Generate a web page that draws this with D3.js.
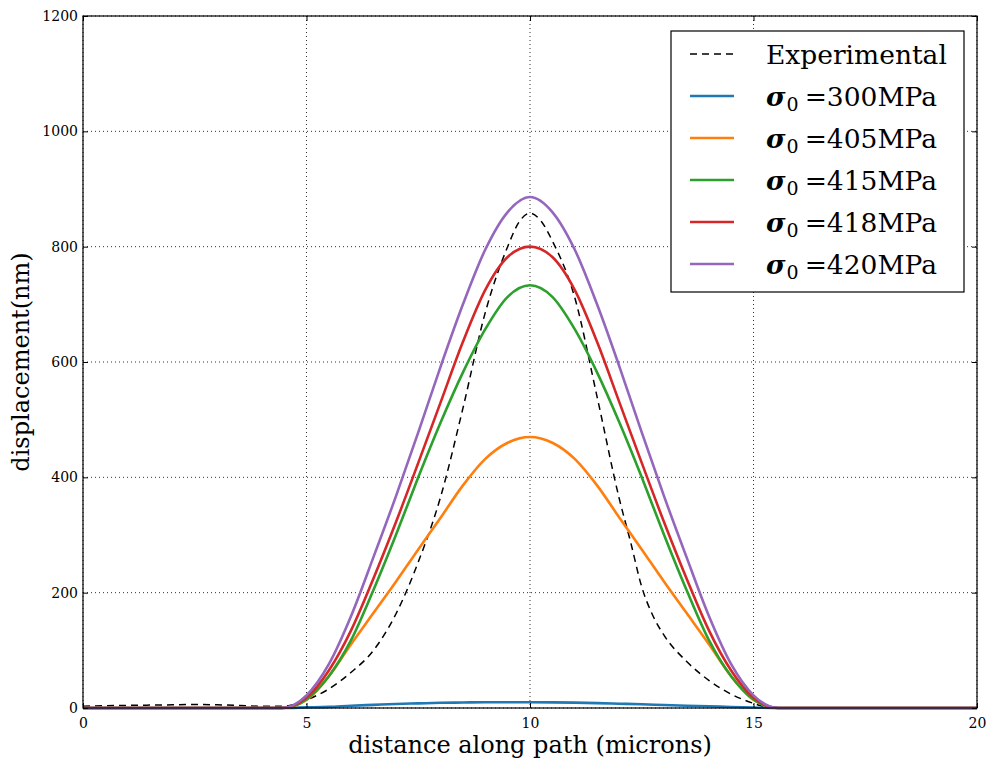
<!DOCTYPE html>
<html>
<head>
<meta charset="utf-8">
<script src="https://cdn.jsdelivr.net/npm/d3@7"></script>
<style>
  html, body { margin: 0; padding: 0; background: #fff; }
  svg { display: block; }
  text { font-family: "DejaVu Serif", serif; fill: #000; }
</style>
</head>
<body>
<svg id="chart" width="987" height="760"></svg>
<script>
// ---------- data ----------
const xTicks = [0, 5, 10, 15, 20];
const yTicks = [0, 200, 400, 600, 800, 1000, 1200];

const expX = [0, 0.5, 1, 1.5, 2, 2.5, 3, 3.5, 4, 4.5, 4.75, 5, 5.5, 6, 6.5, 7, 7.5, 8, 8.5, 9, 9.5, 9.75, 10, 10.25, 10.5, 11, 11.5, 12, 12.25, 12.5, 12.75, 13, 13.5, 14, 14.5, 15, 15.3, 15.5, 16, 20];
const expY = [3, 4, 4.5, 5, 5.5, 6, 5.5, 4.5, 3, 3, 7, 14, 33, 62, 100, 163, 253, 366, 520, 686, 800, 842, 858, 844, 810, 712, 540, 362, 288, 210, 160, 126, 81, 48, 24, 8, 1, 0, 0, 0];

const simX = [0, 4.45, 5, 5.5, 6, 6.5, 7, 7.5, 8, 8.5, 9, 9.5, 10, 10.5, 11, 11.5, 12, 12.5, 13, 13.5, 14, 14.5, 15, 15.55, 20];
const s300 = [0, 0, 1, 2, 4, 5.5, 7, 8, 9, 9.5, 10, 10, 10, 9.8, 9.3, 8.5, 7.5, 6.5, 5.2, 4, 3, 1.8, 0.8, 0, 0];
const s405 = [0, 0, 14, 55, 111, 165, 219, 275, 330, 386, 432, 460, 470, 460, 432, 386, 330, 275, 219, 165, 111, 55, 14, 0, 0];
const s415 = [0, 0, 15, 55, 118, 205, 300, 400, 495, 582, 657, 713, 733, 713, 657, 582, 495, 400, 300, 205, 118, 55, 15, 0, 0];
const s418 = [0, 0, 18, 65, 135, 225, 322, 425, 530, 635, 725, 782, 800, 782, 725, 635, 530, 425, 322, 225, 135, 65, 18, 0, 0];
const s420 = [0, 0, 22, 76, 160, 262, 367, 478, 592, 700, 795, 860, 886, 860, 795, 700, 592, 478, 367, 262, 160, 76, 22, 0, 0];

const seriesLabels = ["300MPa", "405MPa", "415MPa", "418MPa", "420MPa"];
const seriesColors = ["#1f77b4", "#ff7f0e", "#2ca02c", "#d62728", "#9467bd"];
const seriesValues = [s300, s405, s415, s418, s420];

// ---------- layout ----------
const svg = d3.select("#chart");
const L = 83, R = 977, T = 16, B = 708;
const x = d3.scaleLinear().domain([0, 20]).range([L, R]);
const y = d3.scaleLinear().domain([0, 1200]).range([B, T]);

// grid
const grid = svg.append("g");
grid.selectAll("line.gx").data(xTicks).join("line")
  .attr("x1", d => x(d)).attr("x2", d => x(d)).attr("y1", T).attr("y2", B)
  .attr("stroke", "#000").attr("stroke-width", 1).attr("stroke-dasharray", "1,3").attr("opacity", 0.8);
grid.selectAll("line.gy").data(yTicks).join("line")
  .attr("y1", d => y(d)).attr("y2", d => y(d)).attr("x1", L).attr("x2", R)
  .attr("stroke", "#000").attr("stroke-width", 1).attr("stroke-dasharray", "1,3").attr("opacity", 0.8);

// curves
const line = d3.line().x(d => x(d[0])).y(d => y(d[1])).curve(d3.curveMonotoneX);
const plot = svg.append("g");
plot.append("path")
  .attr("d", line(expX.map((v, i) => [v, expY[i]])))
  .attr("fill", "none").attr("stroke", "#000").attr("stroke-width", 1.5)
  .attr("stroke-dasharray", "7,5");
seriesValues.forEach((vals, k) => {
  plot.append("path")
    .attr("d", line(simX.map((v, i) => [v, vals[i]])))
    .attr("fill", "none").attr("stroke", seriesColors[k]).attr("stroke-width", 2.6)
    .attr("stroke-linejoin", "round");
});

// axes (ticks inward on all four sides)
const tickLen = 5;
const axB = svg.append("g").attr("transform", `translate(0,${B})`)
  .call(d3.axisBottom(x).tickValues(xTicks).tickSize(-tickLen).tickPadding(10).tickFormat(d3.format("d")));
const axT = svg.append("g").attr("transform", `translate(0,${T})`)
  .call(d3.axisTop(x).tickValues(xTicks).tickSize(-tickLen).tickFormat(""));
const axL = svg.append("g").attr("transform", `translate(${L},0)`)
  .call(d3.axisLeft(y).tickValues(yTicks).tickSize(-tickLen).tickPadding(5).tickFormat(d3.format("d")));
const axR = svg.append("g").attr("transform", `translate(${R},0)`)
  .call(d3.axisRight(y).tickValues(yTicks).tickSize(-tickLen).tickFormat(""));
[axB, axT, axL, axR].forEach(a => {
  a.select(".domain").remove();
  a.selectAll(".tick line").attr("stroke", "#000").attr("stroke-width", 1);
  a.selectAll("text").style("font-family", "DejaVu Serif, serif").style("font-size", "14px").attr("fill", "#000");
});
axB.selectAll("text").attr("dy", "0.71em");

// frame
svg.append("rect").attr("x", L).attr("y", T).attr("width", R - L).attr("height", B - T)
  .attr("fill", "none").attr("stroke", "#000").attr("stroke-width", 1.2);

// axis labels
svg.append("text").attr("x", (L + R) / 2).attr("y", 753).attr("text-anchor", "middle")
  .style("font-size", "24px").text("distance along path (microns)");
svg.append("text").attr("transform", `translate(29,${(T + B) / 2}) rotate(-90)`).attr("text-anchor", "middle")
  .style("font-size", "24px").text("displacement(nm)");

// legend
const lg = svg.append("g");
lg.append("rect").attr("x", 671).attr("y", 31).attr("width", 293).attr("height", 261)
  .attr("fill", "#fff").attr("stroke", "#000").attr("stroke-width", 1.2);
const rowY = [54, 96, 138, 180, 222, 264];
lg.append("line").attr("x1", 690).attr("x2", 734).attr("y1", rowY[0]).attr("y2", rowY[0])
  .attr("stroke", "#000").attr("stroke-width", 1.5).attr("stroke-dasharray", "7,5");
lg.append("text").attr("x", 766).attr("y", rowY[0] + 10).style("font-size", "26.5px").text("Experimental");
seriesLabels.forEach((lab, k) => {
  const yy = rowY[k + 1];
  lg.append("line").attr("x1", 690).attr("x2", 734).attr("y1", yy).attr("y2", yy)
    .attr("stroke", seriesColors[k]).attr("stroke-width", 2.6);
  const t = lg.append("text").attr("x", 766).attr("y", yy + 10).style("font-size", "26.5px");
  t.append("tspan").style("font-weight", "bold").style("font-style", "italic").text("σ");
  t.append("tspan").attr("dy", 5).attr("dx", 1).style("font-size", "19px").text("0");
  t.append("tspan").attr("dy", -5).attr("dx", 6).text("=" + lab);
});
</script>
</body>
</html>
